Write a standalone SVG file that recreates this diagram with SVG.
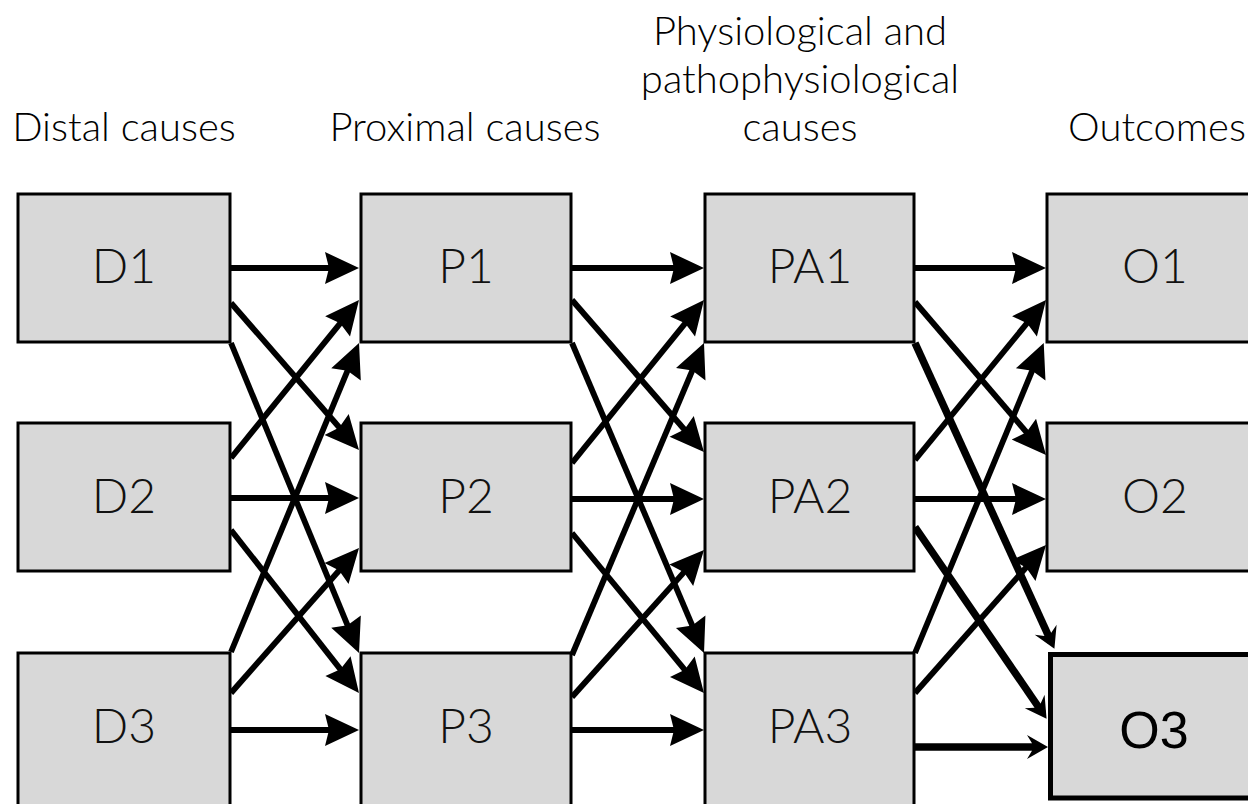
<svg xmlns="http://www.w3.org/2000/svg" width="1248" height="804" viewBox="0 0 1248 804">
  <style>
    .box { fill: #d8d8d8; stroke: #000; stroke-width: 3; }
    .box3 { fill: #d8d8d8; stroke: #000; stroke-width: 5; }
    .lbl { font-family: Lato, "Open Sans", "DejaVu Sans", sans-serif; font-weight: 300; font-size: 48px; fill: #111; text-anchor: middle; }
    .lbl3 { font-family: "Liberation Sans", Arial, sans-serif; font-size: 52px; fill: #000; text-anchor: middle; }
    .hdr { font-family: Lato, "Open Sans", "DejaVu Sans", sans-serif; font-weight: 300; font-size: 40px; fill: #000; text-anchor: middle; }
    .c { stroke: #000; stroke-width: 5.8; fill: none; marker-end: url(#ah); }
    .ct { stroke: #000; stroke-width: 7.5; fill: none; marker-end: url(#ahs); }
  </style>
  <defs>
    <marker id="ah" markerUnits="userSpaceOnUse" viewBox="-26 -18 38 36" markerWidth="38" markerHeight="36" refX="0" refY="0" orient="auto" overflow="visible">
      <path d="M10,0 L-24,-16 L-20,0 L-24,16 Z" fill="#000"/>
    </marker>
    <marker id="ahs" markerUnits="userSpaceOnUse" viewBox="-16 -14 24 28" markerWidth="24" markerHeight="28" refX="0" refY="0" orient="auto" overflow="visible">
      <path d="M7,0 L-14,-12 L-9,-3.8 L-9,3.8 L-14,12 Z" fill="#000"/>
    </marker>
  </defs>

  <g id="headers">
    <text class="hdr" x="124" y="141">Distal causes</text>
    <text class="hdr" x="465" y="141">Proximal causes</text>
    <text class="hdr" x="800" y="45">Physiological and</text>
    <text class="hdr" x="800" y="93">pathophysiological</text>
    <text class="hdr" x="800" y="141">causes</text>
    <text class="hdr" x="1157" y="141">Outcomes</text>
  </g>

  <g id="connectors">
    <!-- Distal -> Proximal -->
    <line class="c" x1="231" y1="268" x2="349" y2="268"/>
    <line class="c" x1="231" y1="303" x2="352.4" y2="442.5"/>
    <line class="c" x1="231" y1="343" x2="355.2" y2="643.8"/>
    <line class="c" x1="231" y1="458" x2="352.7" y2="307.8"/>
    <line class="c" x1="231" y1="498" x2="349" y2="498"/>
    <line class="c" x1="231" y1="530" x2="352.8" y2="685.1"/>
    <line class="c" x1="231" y1="652" x2="355.2" y2="352.2"/>
    <line class="c" x1="231" y1="693" x2="352.4" y2="555.5"/>
    <line class="c" x1="231" y1="730" x2="349" y2="730"/>
    <!-- Proximal -> Physiological -->
    <line class="c" x1="572" y1="268" x2="694" y2="268"/>
    <line class="c" x1="572" y1="300" x2="697.4" y2="444.5"/>
    <line class="c" x1="572" y1="343" x2="700.1" y2="643.8"/>
    <line class="c" x1="572" y1="463" x2="697.7" y2="307.8"/>
    <line class="c" x1="572" y1="499" x2="694" y2="499"/>
    <line class="c" x1="572" y1="533" x2="697.6" y2="685.3"/>
    <line class="c" x1="572" y1="655" x2="700.1" y2="352.2"/>
    <line class="c" x1="572" y1="697" x2="697.3" y2="557.4"/>
    <line class="c" x1="572" y1="730" x2="694" y2="730"/>
    <!-- Physiological -> Outcomes -->
    <line class="c" x1="915" y1="268" x2="1036" y2="268"/>
    <line class="c" x1="915" y1="302" x2="1039.5" y2="447.4"/>
    <line class="c" x1="915" y1="460" x2="1039.7" y2="307.7"/>
    <line class="c" x1="915" y1="499" x2="1036" y2="499"/>
    <line class="c" x1="915" y1="653" x2="1039.9" y2="352.2"/>
    <line class="c" x1="915" y1="693" x2="1039.4" y2="552.5"/>
    <line class="ct" x1="915" y1="343" x2="1051.5" y2="642.5"/>
    <line class="ct" x1="915" y1="527" x2="1042.6" y2="713"/>
    <line class="ct" x1="915" y1="747" x2="1041" y2="747"/>
  </g>

  <g id="D1"><rect class="box" x="18" y="194" width="212" height="148"/><text class="lbl" x="124" y="283">D1</text></g>
  <g id="D2"><rect class="box" x="18" y="423" width="212" height="148"/><text class="lbl" x="124" y="513">D2</text></g>
  <g id="D3"><rect class="box" x="18" y="653" width="212" height="170"/><text class="lbl" x="124" y="743">D3</text></g>

  <g id="P1"><rect class="box" x="361" y="194" width="210" height="148"/><text class="lbl" x="466" y="283">P1</text></g>
  <g id="P2"><rect class="box" x="361" y="423" width="210" height="148"/><text class="lbl" x="466" y="513">P2</text></g>
  <g id="P3"><rect class="box" x="361" y="653" width="210" height="170"/><text class="lbl" x="466" y="743">P3</text></g>

  <g id="PA1"><rect class="box" x="705" y="194" width="209" height="148"/><text class="lbl" x="810" y="283">PA1</text></g>
  <g id="PA2"><rect class="box" x="705" y="423" width="209" height="148"/><text class="lbl" x="810" y="513">PA2</text></g>
  <g id="PA3"><rect class="box" x="705" y="653" width="209" height="170"/><text class="lbl" x="810" y="743">PA3</text></g>

  <g id="O1"><rect class="box" x="1047" y="194" width="230" height="148"/><text class="lbl" x="1155" y="283">O1</text></g>
  <g id="O2"><rect class="box" x="1047" y="423" width="230" height="148"/><text class="lbl" x="1155" y="513">O2</text></g>
  <g id="O3"><rect class="box3" x="1050.5" y="654.5" width="230" height="143.5"/><text class="lbl3" x="1154" y="748">O3</text></g>
</svg>
